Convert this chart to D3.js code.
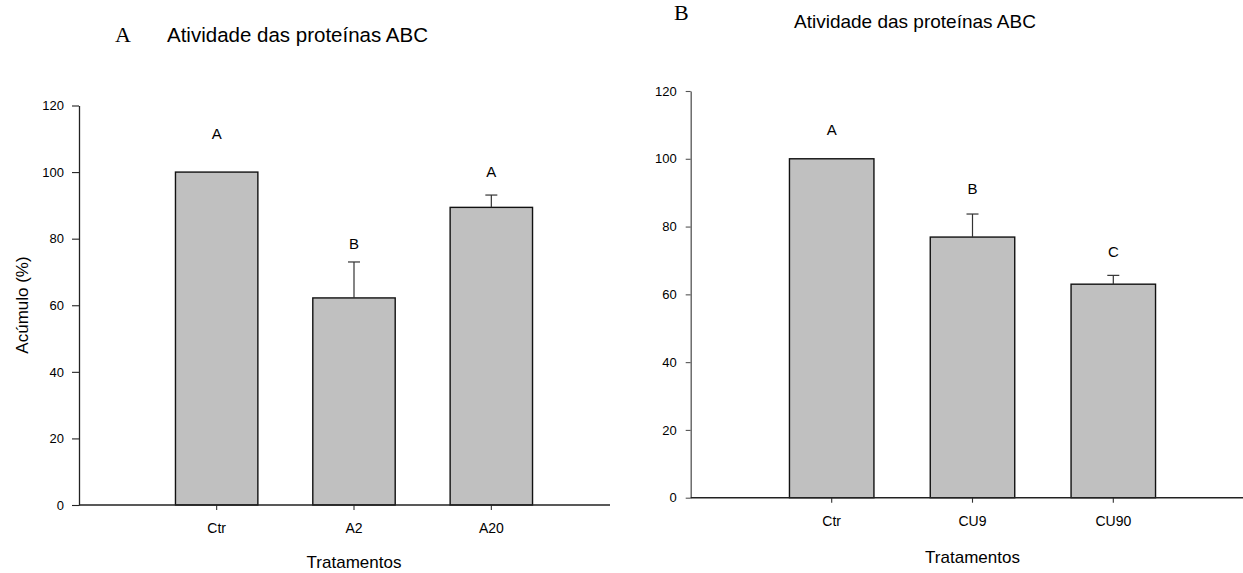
<!DOCTYPE html>
<html>
<head>
<meta charset="utf-8">
<script src="https://cdn.jsdelivr.net/npm/d3@7"></script>
<style>
  html, body { margin: 0; padding: 0; background: #fff; }
  svg { display: block; font-family: "Liberation Sans", Arial, sans-serif; }
</style>
</head>
<body>
<svg id="chart" width="1243" height="573"></svg>
<script>
// Panel A: treatments with A2 / A20
const categoriesA = ["Ctr", "A2", "A20"];
const valuesA = [100, 62.2, 89.4];
const errorsA = [0, 10.8, 3.7];
const lettersA = ["A", "B", "A"];
const letterLevelA = [110, 76.8, 98.4];

// Panel B: treatments with CU9 / CU90
const categoriesB = ["Ctr", "CU9", "CU90"];
const valuesB = [100, 76.9, 63.0];
const errorsB = [0, 6.8, 2.6];
const lettersB = ["A", "B", "C"];
const letterLevelB = [107, 89.6, 70.9];

const yTicks = [0, 20, 40, 60, 80, 100, 120];
const titleText = "Atividade das proteínas ABC";
const xTitle = "Tratamentos";
const yTitle = "Acúmulo (%)";

const svg = d3.select("#chart");

function drawPanel(p) {
  const g = svg.append("g");

  const y = d3.scaleLinear().domain([0, 120]).range([p.y0, p.y120]);
  const x = d3.scaleBand().domain(p.categories).range(p.bandRange)
    .paddingInner(0.4).paddingOuter(0.2);

  // y axis
  const yAxis = g.append("g")
    .attr("transform", `translate(${p.axisX},0)`)
    .call(d3.axisLeft(y).tickValues(yTicks).tickSize(p.yTickLen).tickPadding(p.yTickPad).tickSizeOuter(0));
  yAxis.select(".domain").attr("stroke", p.axisColor).attr("stroke-width", 1.3);
  yAxis.selectAll(".tick line").attr("stroke", p.axisColor).attr("stroke-width", 1.1);
  yAxis.selectAll(".tick text").attr("font-size", 13).attr("fill", "#000")
    .attr("font-family", "Liberation Sans, Arial, sans-serif");

  // bars
  g.selectAll("rect.bar").data(p.values).enter().append("rect")
    .attr("class", "bar")
    .attr("x", (d, i) => x(p.categories[i]))
    .attr("width", x.bandwidth())
    .attr("y", d => y(d))
    .attr("height", d => y(0) - y(d))
    .attr("fill", "#c0c0c0")
    .attr("stroke", "#111")
    .attr("stroke-width", 1.4);

  // error bars (upper only)
  const cx = i => x(p.categories[i]) + x.bandwidth() / 2;
  p.errors.forEach((e, i) => {
    if (!e) return;
    const top = y(p.values[i] + e);
    g.append("line").attr("x1", cx(i)).attr("x2", cx(i))
      .attr("y1", y(p.values[i])).attr("y2", top)
      .attr("stroke", "#333").attr("stroke-width", 1.2);
    g.append("line").attr("x1", cx(i) - 6).attr("x2", cx(i) + 6)
      .attr("y1", top).attr("y2", top)
      .attr("stroke", "#333").attr("stroke-width", 1.2);
  });

  // significance letters
  g.selectAll("text.letter").data(p.letters).enter().append("text")
    .attr("class", "letter")
    .attr("x", (d, i) => cx(i))
    .attr("y", (d, i) => y(p.letterLevel[i]))
    .attr("text-anchor", "middle")
    .attr("font-size", 15)
    .text(d => d);

  // x axis: ticks from the band scale, baseline drawn across the panel
  const xAxis = g.append("g")
    .attr("transform", `translate(0,${y(0)})`)
    .call(d3.axisBottom(x).tickSize(5).tickPadding(13).tickSizeOuter(0));
  xAxis.select(".domain").remove();
  xAxis.selectAll(".tick line").attr("stroke", "#333").attr("stroke-width", 1.1);
  xAxis.selectAll(".tick text").attr("font-size", 14).attr("fill", "#000")
    .attr("font-family", "Liberation Sans, Arial, sans-serif");
  g.append("line")
    .attr("x1", p.axisX).attr("x2", p.xEnd)
    .attr("y1", y(0)).attr("y2", y(0))
    .attr("stroke", "#222").attr("stroke-width", 1.6);

  // axis title
  g.append("text")
    .attr("x", (x.range()[0] + x.range()[1]) / 2)
    .attr("y", p.xTitleY)
    .attr("text-anchor", "middle")
    .attr("font-size", 17)
    .text(xTitle);

  // panel label and title
  g.append("text")
    .attr("x", p.tagX).attr("y", p.tagY)
    .attr("font-family", "Liberation Serif, Times New Roman, serif")
    .attr("font-size", 22)
    .text(p.tag);
  g.append("text")
    .attr("x", p.titleX).attr("y", p.titleY)
    .attr("font-size", p.titleSize)
    .text(titleText);

  return { x, y };
}

drawPanel({
  categories: categoriesA, values: valuesA, errors: errorsA,
  letters: lettersA, letterLevel: letterLevelA,
  y0: 505, y120: 105.5, axisX: 79, xEnd: 610,
  bandRange: [148, 560], axisColor: "#222",
  yTickLen: 7, yTickPad: 8,
  xTitleY: 568,
  tag: "A", tagX: 115, tagY: 42,
  titleX: 167, titleY: 42, titleSize: 20.5
});

drawPanel({
  categories: categoriesB, values: valuesB, errors: errorsB,
  letters: lettersB, letterLevel: letterLevelB,
  y0: 497.7, y120: 91, axisX: 690.7, xEnd: 1243,
  bandRange: [761.3, 1183.7], axisColor: "#555",
  yTickLen: 5, yTickPad: 9,
  xTitleY: 563,
  tag: "B", tagX: 674, tagY: 20,
  titleX: 794, titleY: 28, titleSize: 19
});

// y axis title (panel A only)
svg.append("text")
  .attr("transform", "translate(28,305) rotate(-90)")
  .attr("text-anchor", "middle")
  .attr("font-size", 17)
  .text(yTitle);
</script>
</body>
</html>
